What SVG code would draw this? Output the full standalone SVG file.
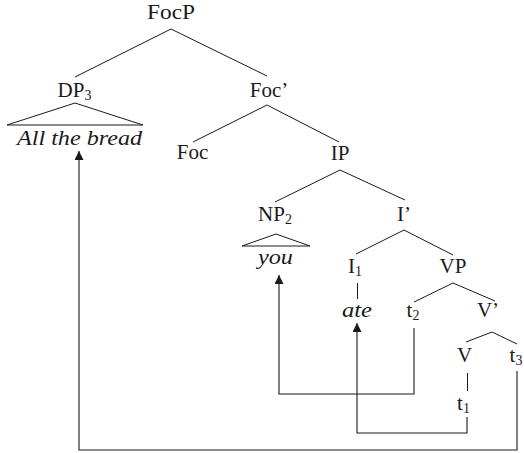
<svg xmlns="http://www.w3.org/2000/svg" width="524" height="453" viewBox="0 0 524 453">
<style>
text{font-family:"Liberation Serif","DejaVu Serif",serif;font-size:21px;fill:#1a1a1a;text-anchor:middle}
.it{font-style:italic}
.sub{font-size:14px}
.e{stroke:#1a1a1a;stroke-width:1;fill:none}
.m{stroke:#1a1a1a;stroke-width:1.1;fill:none}
</style>
<defs>
<marker id="ah" viewBox="0 0 10 10" refX="10" refY="5" markerWidth="10" markerHeight="9" markerUnits="userSpaceOnUse" orient="auto">
<path d="M0,0 L10,5 L0,10 z" fill="#1a1a1a"/>
</marker>
</defs>
<rect width="524" height="453" fill="#fff"/>
<g id="edges">
<path class="e" d="M75,77 L171,29 L267,76"/>
<path class="e" d="M7,125 L75,103 L143,125 Z"/>
<path class="e" d="M193,142 L267,105 L339,142"/>
<path class="e" d="M275,202 L340,170 L405,200"/>
<path class="e" d="M242,246 L276,234 L310,246 Z"/>
<path class="e" d="M356,254 L404,230 L453,255"/>
<path class="e" d="M357.5,283 L357.5,299"/>
<path class="e" d="M414,302 L453,283 L495,301"/>
<path class="e" d="M466,342 L492,332 L517,344"/>
<path class="e" d="M467.5,373 L467.5,391"/>
</g>
<g id="connectors">
<path class="m" d="M414,328 L414,394 L279,394 L279,275" marker-end="url(#ah)"/>
<path class="m" d="M467,417 L467,433 L357,433 L357,323" marker-end="url(#ah)"/>
<path class="m" d="M517,371 L517,450 L79,450 L79,151" marker-end="url(#ah)"/>
</g>
<g id="FocP"><text x="171" y="19" textLength="48" lengthAdjust="spacingAndGlyphs">FocP</text></g>
<g id="DP3"><text x="74.5" y="97">DP<tspan class="sub" dy="3">3</tspan></text></g>
<g id="AllTheBread"><text class="it" x="79.5" y="145" textLength="125" lengthAdjust="spacingAndGlyphs">All the bread</text></g>
<g id="FocBar"><text x="269" y="97">Foc’</text></g>
<g id="Foc"><text x="192.5" y="159">Foc</text></g>
<g id="IP"><text x="340" y="160">IP</text></g>
<g id="NP2"><text x="275" y="221">NP<tspan class="sub" dy="3">2</tspan></text></g>
<g id="you"><text class="it" x="275.5" y="264" textLength="35" lengthAdjust="spacingAndGlyphs">you</text></g>
<g id="IBar"><text x="404" y="221">I’</text></g>
<g id="I1"><text x="355" y="273">I<tspan class="sub" dy="3">1</tspan></text></g>
<g id="VP"><text x="453" y="273">VP</text></g>
<g id="ate"><text class="it" x="357" y="317" textLength="30" lengthAdjust="spacingAndGlyphs">ate</text></g>
<g id="t2"><text x="413" y="317">t<tspan class="sub" dy="3">2</tspan></text></g>
<g id="VBar"><text x="488" y="317">V’</text></g>
<g id="V"><text x="464.5" y="362">V</text></g>
<g id="t3"><text x="516" y="362">t<tspan class="sub" dy="3">3</tspan></text></g>
<g id="t1"><text x="463.5" y="410">t<tspan class="sub" dy="3">1</tspan></text></g>
</svg>
